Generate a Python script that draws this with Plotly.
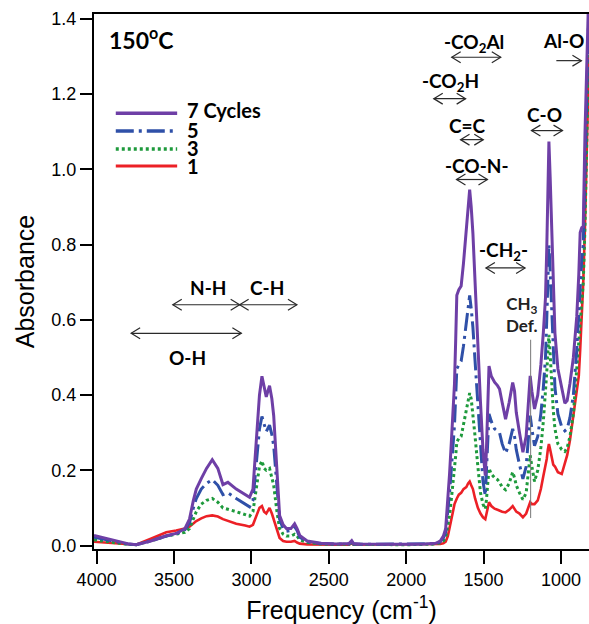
import plotly.graph_objects as go

# ---------------- data ----------------
wavenumber = [4017, 3900, 3800, 3745, 3650, 3550, 3486, 3430, 3400, 3375, 3356, 3324, 3290, 3253,
              3217, 3184, 3152, 3098, 3040, 3012, 2990, 2968, 2948, 2932, 2918, 2904, 2883, 2868,
              2856, 2835, 2818, 2795, 2774, 2745, 2721, 2705, 2688, 2640, 2550, 2450, 2370, 2352,
              2340, 2300, 2150, 2000, 1880, 1810, 1780, 1760, 1745, 1731, 1720, 1709, 1698, 1688,
              1680, 1673, 1660, 1645, 1630, 1612, 1600, 1590, 1580, 1569, 1555, 1537, 1520, 1504,
              1489, 1482, 1476, 1465, 1450, 1429, 1410, 1397, 1380, 1358, 1335, 1312, 1300, 1289,
              1268, 1246, 1225, 1210, 1199, 1188, 1171, 1150, 1130, 1114, 1100, 1092, 1085, 1078,
              1070, 1060, 1050, 1039, 1020, 995, 975, 960, 942, 920, 898, 885, 876, 866, 856, 845,
              835, 819]

cycles7 = [0.027, 0.016, 0.005, 0.002, 0.012, 0.026, 0.032, 0.045, 0.07, 0.12, 0.15, 0.178, 0.205, 0.228,
           0.205, 0.162, 0.168, 0.15, 0.135, 0.128, 0.15, 0.29, 0.40, 0.45, 0.42, 0.395, 0.425, 0.39,
           0.345, 0.20, 0.08, 0.055, 0.045, 0.045, 0.058, 0.045, 0.027, 0.012, 0.006, 0.004, 0.005, 0.013,
           0.005, 0.004, 0.003, 0.003, 0.004, 0.006, 0.012, 0.025, 0.045, 0.12, 0.19, 0.27, 0.35, 0.43,
           0.55, 0.665, 0.68, 0.69, 0.75, 0.83, 0.88, 0.946, 0.90, 0.83, 0.70, 0.52, 0.38, 0.254,
           0.186, 0.25, 0.343, 0.477, 0.45, 0.434, 0.425, 0.416, 0.38, 0.336, 0.38, 0.433, 0.41, 0.354,
           0.30, 0.248, 0.29, 0.38, 0.451, 0.41, 0.363, 0.40, 0.48, 0.566, 0.66, 0.787, 0.93, 1.074,
           0.98, 0.83, 0.68, 0.564, 0.47, 0.414, 0.378, 0.385, 0.431, 0.50, 0.609, 0.72, 0.832, 0.845, 0.848, 1.096,
           1.30, 1.50]

cycles5 = [0.022, 0.013, 0.004, 0.002, 0.012, 0.025, 0.031, 0.042, 0.06, 0.10, 0.125, 0.15, 0.165, 0.175,
           0.16, 0.135, 0.14, 0.125, 0.11, 0.103, 0.12, 0.23, 0.31, 0.343, 0.32, 0.303, 0.32, 0.295,
           0.265, 0.16, 0.07, 0.045, 0.038, 0.04, 0.05, 0.04, 0.022, 0.01, 0.005, 0.004, 0.004, 0.01,
           0.004, 0.003, 0.003, 0.003, 0.003, 0.005, 0.01, 0.02, 0.035, 0.09, 0.14, 0.20, 0.26, 0.32,
           0.40, 0.47, 0.48, 0.49, 0.53, 0.59, 0.62, 0.665, 0.63, 0.58, 0.49, 0.37, 0.25, 0.17,
           0.133, 0.18, 0.25, 0.35, 0.33, 0.31, 0.305, 0.30, 0.27, 0.245, 0.27, 0.31, 0.29, 0.255,
           0.215, 0.177, 0.21, 0.28, 0.345, 0.31, 0.265, 0.29, 0.35, 0.42, 0.50, 0.60, 0.70, 0.80,
           0.73, 0.62, 0.50, 0.42, 0.35, 0.315, 0.305, 0.31, 0.34, 0.40, 0.52, 0.62, 0.70, 0.76, 0.80, 0.98,
           1.20, 1.45]

cycles3 = [0.015, 0.008, 0.003, 0.002, 0.012, 0.025, 0.03, 0.035, 0.045, 0.07, 0.09, 0.11, 0.12, 0.125,
           0.115, 0.10, 0.097, 0.09, 0.082, 0.078, 0.09, 0.16, 0.21, 0.225, 0.205, 0.20, 0.205, 0.18,
           0.16, 0.09, 0.045, 0.03, 0.025, 0.025, 0.03, 0.025, 0.015, 0.008, 0.004, 0.003, 0.003, 0.008,
           0.003, 0.003, 0.002, 0.002, 0.003, 0.004, 0.007, 0.012, 0.02, 0.05, 0.08, 0.12, 0.16, 0.20,
           0.24, 0.275, 0.285, 0.29, 0.32, 0.36, 0.38, 0.405, 0.39, 0.35, 0.29, 0.21, 0.14, 0.11,
           0.097, 0.12, 0.16, 0.205, 0.19, 0.18, 0.175, 0.168, 0.155, 0.148, 0.165, 0.195, 0.18, 0.16,
           0.14, 0.122, 0.14, 0.19, 0.24, 0.21, 0.17, 0.20, 0.26, 0.33, 0.40, 0.46, 0.51, 0.56,
           0.51, 0.43, 0.36, 0.31, 0.27, 0.255, 0.25, 0.26, 0.29, 0.35, 0.47, 0.55, 0.60, 0.65, 0.70, 0.85,
           1.05, 1.35]

cycles1 = [0.010, 0.006, 0.002, 0.002, 0.018, 0.035, 0.04, 0.045, 0.05, 0.06, 0.065, 0.072, 0.078, 0.08,
           0.077, 0.07, 0.065, 0.058, 0.053, 0.05, 0.055, 0.08, 0.10, 0.105, 0.09, 0.085, 0.10, 0.085,
           0.07, 0.04, 0.02, 0.012, 0.01, 0.01, 0.012, 0.008, 0.005, 0.003, 0.002, 0.002, 0.002, 0.006,
           0.002, 0.002, 0.002, 0.002, 0.002, 0.003, 0.004, 0.006, 0.01, 0.025, 0.05, 0.07, 0.09, 0.11,
           0.12, 0.125, 0.135, 0.14, 0.15, 0.155, 0.165, 0.17, 0.16, 0.15, 0.125, 0.10, 0.085, 0.075,
           0.07, 0.085, 0.10, 0.115, 0.105, 0.098, 0.095, 0.092, 0.09, 0.088, 0.095, 0.105, 0.098, 0.09,
           0.085, 0.075, 0.085, 0.10, 0.115, 0.11, 0.11, 0.12, 0.15, 0.185, 0.21, 0.23, 0.255, 0.27,
           0.255, 0.23, 0.215, 0.21, 0.195, 0.19, 0.215, 0.24, 0.28, 0.35, 0.41, 0.45, 0.52, 0.60, 0.70, 0.85,
           1.00, 1.30]

series_names = ["7 Cycles", "5", "3", "1"]
x_tick_vals = [4000, 3500, 3000, 2500, 2000, 1500, 1000]
y_tick_vals = [0.0, 0.2, 0.4, 0.6, 0.8, 1.0, 1.2, 1.4]

# band labels: text, label x, label y
band_labels = ["N-H", "C-H", "O-H", "-CO<sub>2</sub>Al", "Al-O", "-CO<sub>2</sub>H",
               "C=C", "-CO-N-", "C-O", "-CH<sub>2</sub>-"]
band_label_x = [3283, 2898, 3413, 1565, 985, 1713, 1602, 1540, 1104, 1369]
band_label_y = [0.686, 0.686, 0.500, 1.337, 1.342, 1.233, 1.116, 1.009, 1.146, 0.783]
# band arrows: start, end, height, double-headed?
arrow_start = [3508, 3076, 3777, 1706, 1030, 1822, 1649, 1675, 1191, 1485]
arrow_end = [3076, 2706, 3065, 1389, 868, 1616, 1502, 1475, 990, 1232]
arrow_y = [0.640, 0.640, 0.564, 1.298, 1.289, 1.188, 1.079, 0.973, 1.103, 0.738]
arrow_double = [True, True, True, True, False, True, True, True, True, True]

ch3_x = 1196
ch3_line_y = [0.073, 0.547]

# ---------------- styles ----------------
colors = ["#6E3FA6", "#2F50A8", "#1E9A3C", "#EC2026"]
dashes = ["solid", "18px,5px,3px,5px", "3px,3px", "solid"]
widths = [3, 3, 3, 2.6]
label_font = dict(family="Lato, 'Open Sans', sans-serif", size=19, color="black")
arrow_color = "#2a2a2a"
head_len = 58      # arrow head length, in cm-1 (about 9 px)
head_half = 0.0146  # arrow head half-height, in absorbance units (about 5.5 px)

fig = go.Figure()
all_series = [cycles7, cycles5, cycles3, cycles1]
for i in [3, 2, 1, 0]:
    fig.add_trace(go.Scatter(
        x=wavenumber, y=all_series[i], mode="lines", name=series_names[i],
        line=dict(color=colors[i], width=widths[i], dash=dashes[i]),
        showlegend=False, hoverinfo="skip"))

annotations = []
shapes = []
for t, lx, ly in zip(band_labels, band_label_x, band_label_y):
    annotations.append(dict(x=lx, y=ly, xref="x", yref="y", text="<b>" + t + "</b>",
                            showarrow=False, font=label_font, xanchor="center", yanchor="middle"))


def chevron(tip, y, direction):
    """Open arrow head with its tip at (tip, y); direction +1 means the head's back lies at higher x."""
    back = tip + direction * head_len
    return dict(type="path", xref="x", yref="y",
                path=f"M {back},{y + head_half} L {tip},{y} L {back},{y - head_half}",
                line=dict(color=arrow_color, width=1.2))


for s, e, ay, dbl in zip(arrow_start, arrow_end, arrow_y, arrow_double):
    shapes.append(dict(type="line", xref="x", yref="y", x0=s, x1=e, y0=ay, y1=ay,
                       line=dict(color=arrow_color, width=1.2)))
    d = 1 if s > e else -1
    shapes.append(chevron(e, ay, d))
    if dbl:
        shapes.append(chevron(s, ay, -d))

# CH3 Def. label and pointer
annotations.append(dict(x=1252, y=0.613, xref="x", yref="y", text="<b>CH<sub>3</sub><br>Def.</b>",
                        showarrow=False, font=dict(family="Lato, sans-serif", size=17, color="#222222"),
                        xanchor="center", yanchor="middle", align="center"))
shapes.append(dict(type="line", xref="x", yref="y", x0=ch3_x, x1=ch3_x, y0=ch3_line_y[0], y1=ch3_line_y[1],
                   line=dict(color="#777777", width=1)))
# temperature label
annotations.append(dict(x=0.027, y=0.955, xref="paper", yref="paper", text="<b>150<sup>o</sup>C</b>",
                        showarrow=False, font=dict(family="Lato, sans-serif", size=23, color="black"),
                        xanchor="left", yanchor="middle"))

# manual legend (positions in paper coordinates)
leg_y_line = [0.8144, 0.7813, 0.7477, 0.7159]
leg_y_text = [0.8206, 0.7832, 0.7495, 0.7159]
for i in range(4):
    shapes.append(dict(type="line", xref="paper", yref="paper", x0=0.044, x1=0.168,
                       y0=leg_y_line[i], y1=leg_y_line[i],
                       line=dict(color=colors[i], width=widths[i] + 0.4, dash=dashes[i])))
    annotations.append(dict(x=0.1838, y=leg_y_text[i], xref="paper", yref="paper",
                            text="<b>" + series_names[i] + "</b>", showarrow=False,
                            font=dict(family="Lato, sans-serif", size=20, color="black"),
                            xanchor="left", yanchor="middle"))

axis_font = dict(family="Liberation Sans, Arial, sans-serif", size=18, color="black")
fig.update_layout(
    width=589, height=624,
    margin=dict(l=94, r=0, t=14, b=75),
    paper_bgcolor="white", plot_bgcolor="white",
    showlegend=False,
    annotations=annotations, shapes=shapes,
    xaxis=dict(range=[4017, 819], tickvals=x_tick_vals, ticktext=[str(v) for v in x_tick_vals],
               showline=True, linecolor="black", linewidth=2, mirror=True,
               ticks="outside", ticklen=13, tickwidth=2, tickcolor="black",
               showgrid=False, zeroline=False, tickfont=axis_font, automargin=False,
               title=dict(text="Frequency (cm<sup>-1</sup>)", standoff=22,
                          font=dict(family="Liberation Sans, Arial, sans-serif", size=25, color="black"))),
    yaxis=dict(range=[-0.0093, 1.413], tickvals=y_tick_vals, tickformat=".1f",
               showline=True, linecolor="black", linewidth=2,
               ticks="outside", ticklen=12, tickwidth=2, tickcolor="black",
               showgrid=False, zeroline=False, tickfont=axis_font, automargin=False,
               title=dict(text="Absorbance", standoff=10,
                          font=dict(family="Liberation Sans, Arial, sans-serif", size=25, color="black"))),
)

# remove the browser's default 8px page margin so the figure sits at the window origin
fig.write_html("out.html", config={"displayModeBar": False},
               post_script="document.body.style.margin='0';document.body.style.overflow='hidden';")
